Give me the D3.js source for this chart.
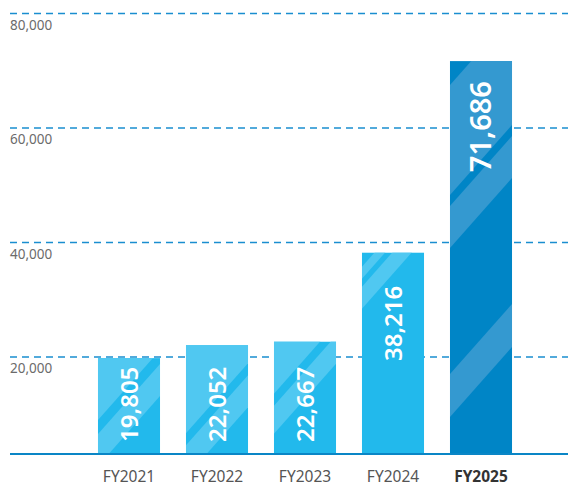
<!DOCTYPE html>
<html>
<head>
<meta charset="utf-8">
<script src="https://cdn.jsdelivr.net/npm/d3@7"></script>
<style>
  html, body { margin: 0; padding: 0; background: #fff; }
  svg { display: block; }
</style>
</head>
<body>
<svg id="chart" width="568" height="486"></svg>
<script>
// ---- data ----
const categories = ["FY2021", "FY2022", "FY2023", "FY2024", "FY2025"];
const values = [19805, 22052, 22667, 38216, 71686];
const tickValues = [20000, 40000, 60000, 80000];
const tickLabels = ["20,000", "40,000", "60,000", "80,000"];
const highlight = "FY2025";

// decorative light diagonal bands per bar (in diagonal units from the bar top)
const stripeBands = [
  [[-200, 62], [76, 108]],
  [[-200, 88], [100, 132]],
  [[-200, 52], [64, 92]],
  [[14, 26], [34, 56]],
  [[24, 134], [145, 187], [313, 356]]
];

// ---- layout ----
const W = 568, H = 486;
const baseY = 454;
const svg = d3.select("#chart");

const x = d3.scaleBand().domain(categories).range([85, 525]).paddingInner(0.295).paddingOuter(0.1475);
const y = d3.scaleLinear().domain([0, 80000]).range([471.5, 13.5]);

const font = "'Noto Sans', 'DejaVu Sans', sans-serif";

// gridlines
const grid = svg.append("g");
grid.selectAll("line").data(tickValues).join("line")
  .attr("x1", 10).attr("x2", W)
  .attr("y1", d => y(d)).attr("y2", d => y(d))
  .attr("stroke", "#1a8ed0").attr("stroke-width", 1.3)
  .attr("stroke-dasharray", "7,5");

grid.selectAll("text").data(tickValues).join("text")
  .attr("x", 10).attr("y", d => y(d) + 16)
  .attr("font-family", font).attr("font-size", 13.5)
  .attr("fill", "#6b6b6b")
  .text((d, i) => tickLabels[i]);

// bars
const defs = svg.append("defs");
const slope = 1.13;
const data = categories.map((c, i) => ({ c, v: values[i], i }));

const barG = svg.append("g").selectAll("g").data(data).join("g");

barG.each(function(d) {
  const g = d3.select(this);
  const left = x(d.c), w = x.bandwidth(), top = y(d.v), h = baseY - top;
  const isHi = d.c === highlight;
  const id = "clip" + d.i;
  defs.append("clipPath").attr("id", id)
    .append("rect").attr("x", left).attr("y", top).attr("width", w).attr("height", h);
  g.append("rect")
    .attr("x", left).attr("y", top).attr("width", w).attr("height", h)
    .attr("fill", isHi ? "#0085c6" : "#22b9ec");
  const sg = g.append("g").attr("clip-path", `url(#${id})`);
  stripeBands[d.i].forEach(([d1, d2]) => {
    const pts = [
      [left, top + d1], [left + w, top + d1 - slope * w],
      [left + w, top + d2 - slope * w], [left, top + d2]
    ];
    sg.append("polygon").attr("points", pts.map(p => p.join(",")).join(" "))
      .attr("fill", isHi ? "#3499d0" : "#50c8f1");
  });
  // value label
  const cx = left + w / 2;
  let ty, anchor;
  if (d.v < 30000) { ty = baseY - 12; anchor = "start"; }
  else { ty = top + (d.v < 50000 ? 33 : 20); anchor = "end"; }
  g.append("text")
    .attr("transform", `translate(${cx},${ty}) rotate(-90)`)
    .attr("dy", "0.36em")
    .attr("text-anchor", anchor)
    .attr("font-family", font)
    .attr("font-weight", 600)
    .attr("font-size", isHi ? 29 : 24)
    .attr("fill", "#fff")
    .text(d3.format(",")(d.v));
});

// baseline axis
svg.append("line")
  .attr("x1", 10).attr("x2", W).attr("y1", baseY).attr("y2", baseY)
  .attr("stroke", "#0a86c6").attr("stroke-width", 2.2);

// x labels
const xAxis = d3.axisBottom(x).tickSize(0).tickPadding(0);
const xg = svg.append("g").attr("transform", `translate(0,${baseY})`).call(xAxis);
xg.select(".domain").remove();
xg.selectAll("text")
  .attr("y", 27.5)
  .attr("dy", 0)
  .attr("font-family", font)
  .attr("font-size", 15.5)
  .attr("font-weight", d => d === highlight ? 700 : 400)
  .attr("fill", d => d === highlight ? "#333" : "#555");
</script>
</body>
</html>
